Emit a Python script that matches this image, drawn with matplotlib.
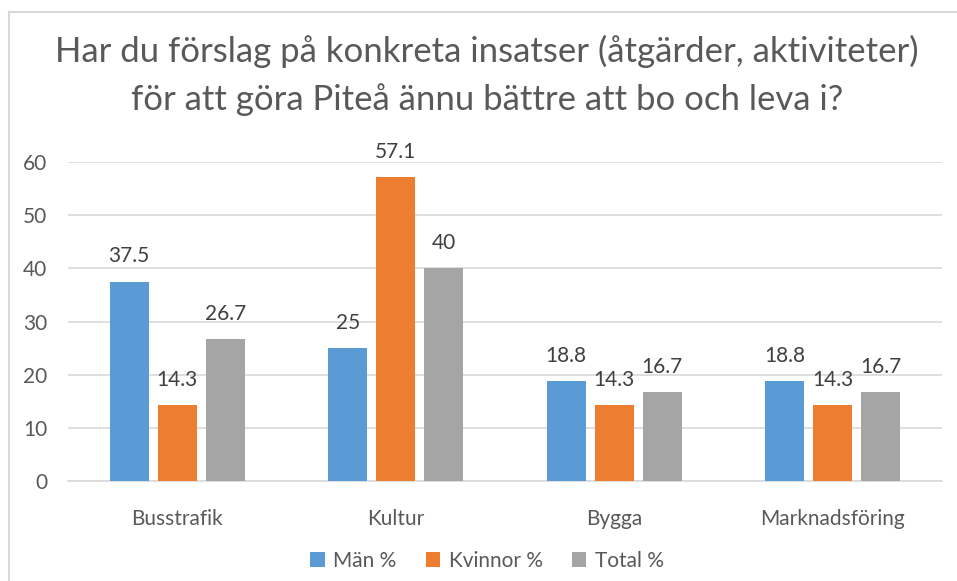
#!/usr/bin/env python3
"""Grouped bar chart: förslag på konkreta insatser i Piteå."""

import matplotlib
matplotlib.use("Agg")
import matplotlib.pyplot as plt
from matplotlib.lines import Line2D
import numpy as np

# ---------------------------------------------------------------------------
# Data
# ---------------------------------------------------------------------------

categories = ["Busstrafik", "Kultur", "Bygga", "Marknadsföring"]
series_names = ["Män %", "Kvinnor %", "Total %"]
man = [37.5, 25, 18.8, 18.8]
kvinnor = [14.3, 57.1, 14.3, 14.3]
total = [26.7, 40, 16.7, 16.7]
yticks = [0, 10, 20, 30, 40, 50, 60]

COLORS = ["#5B9BD5", "#ED7D31", "#A5A5A5"]
TEXT = "#595959"
FS = 15

plt.rcParams["font.family"] = ["Lato", "DejaVu Sans"]

fig = plt.figure(figsize=(9.57, 5.81), dpi=100)
ax = fig.add_axes([0.0711, 0.1721, 0.9133, 0.549])

x = np.arange(len(categories))
width = 0.178
offset = 0.22

for i, (vals, name) in enumerate(zip([man, kvinnor, total], series_names)):
    pos = x + (i - 1) * offset
    bars = ax.bar(pos, vals, width, color=COLORS[i], label=name, zorder=3)
    for b, v in zip(bars, vals):
        ax.annotate(f"{v:g}", (b.get_x() + b.get_width() / 2, v),
                    xytext=(0, 14), textcoords="offset points",
                    ha="center", va="baseline", fontsize=FS, color="#404040")

ax.set_xlim(-0.5, len(categories) - 0.5)
ax.set_ylim(0, 60)
ax.set_yticks(yticks)
ax.set_xticks(x)
ax.set_xticklabels(categories)
ax.tick_params(axis="both", length=0, labelsize=FS, colors=TEXT)
ax.tick_params(axis="x", pad=20)
ax.tick_params(axis="y", pad=15)
ax.grid(axis="y", color="#D9D9D9", linewidth=1.2, zorder=0)
for s in ["top", "right", "left"]:
    ax.spines[s].set_visible(False)
ax.spines["bottom"].set_color("#D9D9D9")
ax.spines["bottom"].set_linewidth(1.2)

fig.text(0.509, 1 - 62 / 581, "Har du förslag på konkreta insatser (åtgärder, aktiviteter)",
         ha="center", va="baseline", fontsize=25, color=TEXT)
fig.text(0.509, 1 - 110 / 581, "för att göra Piteå ännu bättre att bo och leva i?",
         ha="center", va="baseline", fontsize=25, color=TEXT)

fig.legend(loc="center", ncol=3, bbox_to_anchor=(0.509, 1 - 561 / 581),
           frameon=False, fontsize=FS, handlelength=0.7, handleheight=0.7,
           columnspacing=1.4, handletextpad=0.4, labelcolor=TEXT)

# chart frame: only top and left edges are inside the picture
fig.add_artist(Line2D([9 / 957, 1], [1 - 12 / 581] * 2, transform=fig.transFigure,
                      color="#D9D9D9", linewidth=1.5))
fig.add_artist(Line2D([9 / 957] * 2, [0, 1 - 12 / 581], transform=fig.transFigure,
                      color="#D9D9D9", linewidth=1.5))

fig.savefig("out.png", dpi=100)
